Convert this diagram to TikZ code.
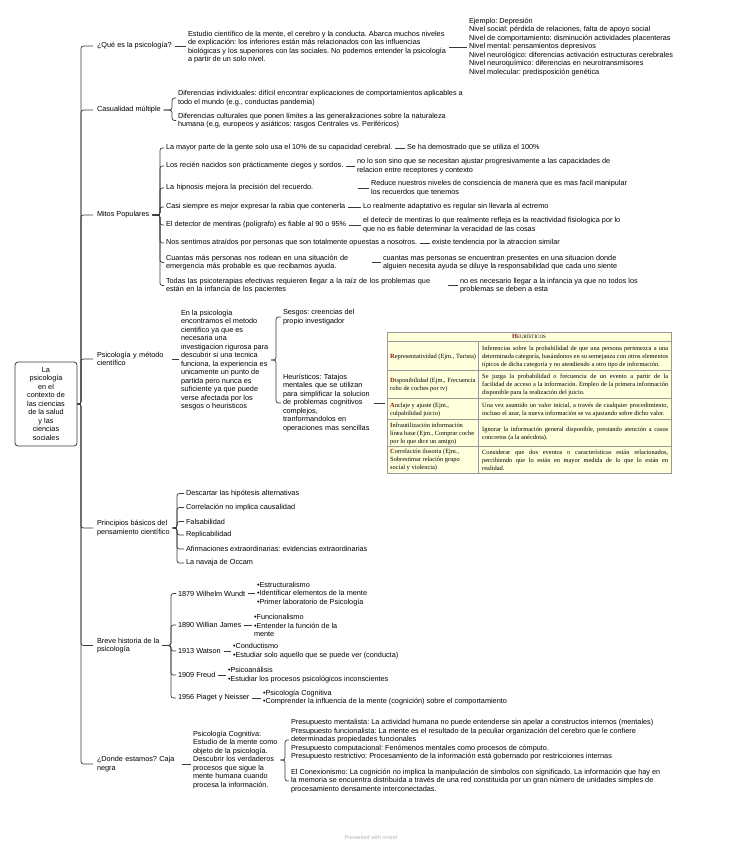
\documentclass[tikz,border=0pt]{standalone}
\usepackage{fontspec}
\setmainfont{Liberation Sans}
\newfontfamily\tablefont{Liberation Serif}
\usepackage{xcolor}
\usepackage{tikz}
\usetikzlibrary{calc}
\definecolor{linkcolor}{HTML}{3A3A3A}
\definecolor{tablefill}{HTML}{FFFFDC}
\definecolor{tablerule}{HTML}{9A9A9A}
\definecolor{initialred}{HTML}{9B0A0A}
\newcommand{\mapfont}{\frenchspacing\fontsize{7.3}{8.5}\selectfont}
\newcommand{\cellfont}{\frenchspacing\tablefont\fontsize{6.4}{8}\selectfont}
\newcommand{\initial}[1]{\textcolor{initialred}{\textbf{#1}}}
\newcommand{\branch}[3]{\draw[link] (#1.east) -- ($(#1.east -| #2.west)+(-#3,0)$) |- (#2.west);}
\newcommand{\dashlink}[2]{\draw[link] (#1.east) -- (#1.east -| #2.west);}

\begin{document}
\begin{tikzpicture}[
        x=1pt, y=-1pt,
        txt/.style={anchor=west, inner sep=0pt, outer sep=0pt, align=left, font=\mapfont},
        link/.style={draw=linkcolor, line width=0.7pt, rounded corners=2.5pt, shorten <=3pt, shorten >=2pt},
        rootbox/.style={draw=linkcolor, line width=0.8pt, rounded corners=3pt, minimum width=62pt, minimum height=84pt, inner sep=1pt, align=center, font=\mapfont},
        tablebox/.style={draw=tablerule, fill=tablefill, line width=0.6pt, minimum width=284pt, minimum height=141pt, inner sep=0pt},
        gridline/.style={draw=tablerule, line width=0.6pt},
        cell/.style={anchor=west, inner sep=0pt, font=\cellfont, align=left},
        bodycell/.style={cell, text width=186pt, align=justify}
    ]
        \useasboundingbox (0,0) rectangle (742,848);

        \node[rootbox] (root) at (46,404) {La\\psicología\\en el\\contexto de\\las ciencias\\de la salud\\y las\\ciencias\\sociales};

        \node[txt] (q1) at (97,46) {¿Qué es la psicología?};
        \node[txt] (q2) at (97,110) {Casualidad múltiple};
        \node[txt] (q3) at (97,215) {Mitos Populares};
        \node[txt, text width=72pt] (q4) at (97,359) {Psicología y método\\científico};
        \node[txt] (q5) at (97,528) {Principios básicos del\\pensamiento científico};
        \node[txt] (q6) at (97,645.5) {Breve historia de la\\psicología};
        \node[txt, text width=82pt] (q7) at (97,764) {¿Donde estamos? Caja\\negra};

        \foreach \q in {q1,q2,q3,q4,q5,q6,q7}
            \draw[link, shorten <=0pt, shorten >=4pt] (root.east) -- ($(root.east -| \q.west)+(-16pt,0)$) |- (\q.west);

        \node[txt] (def) at (188,47) {Estudio científico de la mente, el cerebro y la conducta. Abarca muchos niveles\\de explicación: los inferiores están más relacionados con las influencias\\biológicas y los superiores con las sociales. No podemos entender la psicología\\a partir de un solo nivel.};
        \node[txt] (example) at (469,47) {Ejemplo: Depresión\\Nivel social: pérdida de relaciones, falta de apoyo social\\Nivel de comportamiento: disminución actividades placenteras\\Nivel mental: pensamientos depresivos\\Nivel neurológico: diferencias activación estructuras cerebrales\\Nivel neuroquímico: diferencias en neurotransmisores\\Nivel molecular: predisposición genética};
        \dashlink{q1}{def}
        \dashlink{def}{example}

        \node[txt] (cause1) at (178,98) {Diferencias individuales: difícil encontrar explicaciones de comportamientos aplicables a\\todo el mundo (e.g., conductas pandemia)};
        \node[txt] (cause2) at (178,120.5) {Diferencias culturales que ponen límites a las generalizaciones sobre la naturaleza\\humana (e.g, europeos y asiáticos: rasgos Centrales vs. Periféricos)};
        \foreach \c in {cause1,cause2} {\branch{q2}{\c}{6pt}}

        \node[txt] (myth1) at (166,148) {La mayor parte de la gente solo usa el 10\% de su capacidad cerebral.};
        \node[txt] (myth2) at (166,166) {Los recién nacidos son prácticamente ciegos y sordos.};
        \node[txt, text width=189pt] (myth3) at (166,188) {La hipnosis mejora la precisión del recuerdo.};
        \node[txt] (myth4) at (166,207) {Casi siempre es mejor expresar la rabia que contenerla};
        \node[txt] (myth5) at (166,225) {El detector de mentiras (polígrafo) es fiable al 90 o 95\%};
        \node[txt] (myth6) at (166,243) {Nos sentimos atraídos por personas que son totalmente opuestas a nosotros.};
        \node[txt, text width=203pt] (myth7) at (166,262.5) {Cuantas más personas nos rodean en una situación de\\emergencia más probable es que recibamos ayuda.};
        \node[txt, text width=279pt] (myth8) at (166,285.5) {Todas las psicoterapias efectivas requieren llegar a la raíz de los problemas que\\están en la infancia de los pacientes};

        \node[txt] (fact1) at (407,148) {Se ha demostrado que se utiliza el 100\%};
        \node[txt] (fact2) at (357,166) {no lo son sino que se necesitan ajustar progresivamente a las capacidades de\\relacion entre receptores y contexto};
        \node[txt] (fact3) at (371,188) {Reduce nuestros niveles de consciencia de manera que es mas facil manipular\\los recuerdos que tenemos};
        \node[txt] (fact4) at (363,207) {Lo realmente adaptativo es regular sin llevarla al ectremo};
        \node[txt] (fact5) at (363,225) {el detecir de mentiras lo que realmente refleja es la reactividad fisiologica por lo\\que no es fiable determinar la veracidad de las cosas};
        \node[txt] (fact6) at (432,243) {existe tendencia por la atraccion similar};
        \node[txt] (fact7) at (383,262.5) {cuantas mas personas se encuentran presentes en una situacion donde\\alguien necesita ayuda se diluye la responsabilidad que cada uno siente};
        \node[txt] (fact8) at (460,285.5) {no es necesario llegar a la infancia ya que no todos los\\problemas se deben a esta};

        \foreach \i in {1,...,8} {\branch{q3}{myth\i}{6pt}\dashlink{myth\i}{fact\i}}

        \node[txt] (method) at (181,360) {En la psicología\\encontramos el metodo\\cientifico ya que es\\necesaria una\\investigacion rigurosa para\\descubrir si una tecnica\\funciona, la experiencia es\\unicamente un punto de\\partida pero nunca es\\suficiente ya que puede\\verse afectada por los\\sesgos o heuristicos};
        \node[txt] (bias) at (283,317) {Sesgos: creencias del\\propio investigador};
        \node[txt, text width=88pt] (heuristic) at (283,403) {Heurísticos: Tatajos\\mentales que se utilizan\\para simplificar la solucion\\de problemas cognitivos\\complejos,\\tranformandolos en\\operaciones mas sencillas};
        \dashlink{q4}{method}
        \foreach \c in {bias,heuristic} {\branch{method}{\c}{7pt}}

        \node[tablebox] (heurtab) at (529,402.5) {};
        \foreach \d in {10,39,67,88,115}
            \draw[gridline] ([yshift=-\d pt]heurtab.north west) -- ([yshift=-\d pt]heurtab.north east);
        \draw[gridline] ([xshift=92pt,yshift=-10pt]heurtab.north west) -- ([xshift=92pt]heurtab.south west);
        \node[font=\cellfont, inner sep=0pt] (tabtitle) at ([yshift=-5pt]heurtab.north) {\initial{H}{\fontsize{5}{6}\selectfont EURÍSTICOS}};
        \foreach \i/\y/\l/\r in {
            1/356.5/{\initial{R}epresentatividad (Ejm., Turista)}/{Inferencias sobre la probabilidad de que una persona pertenezca a una\linebreak determinada categoría, basándonos en su semejanza con otros elementos\linebreak típicos de dicha categoría y no atendiendo a otro tipo de información.},
            2/385/{\initial{D}isponibilidad (Ejm., Frecuencia\\robo de coches por tv)}/{Se juzga la probabilidad o frecuencia de un evento a partir de la\linebreak facilidad de acceso a la información. Empleo de la primera información\linebreak disponible para la realización del juicio.},
            3/409.5/{\initial{A}nclaje y ajuste (Ejm.,\\culpabilidad juicio)}/{Una vez asumido un valor inicial, a través de cualquier procedimiento,\linebreak incluso el azar, la nueva información se va ajustando sobre dicho valor.},
            4/433.5/{\initial{I}nfrautilización información\\línea base (Ejm., Comprar coche\\por lo que dice un amigo)}/{Ignorar la información general disponible, prestando atención a casos\linebreak concretos (a la anécdota).},
            5/460/{\initial{C}orrelación ilusoria (Ejm.,\\Sobrestimar relación grupo\\social y violencia)}/{Considerar que dos eventos o características están relacionados,\linebreak percibiendo que lo están en mayor medida de lo que lo están en\linebreak realidad.}}
        {
            \node[cell] (kind\i) at (390,\y) {\l};
            \node[bodycell] (desc\i) at (482,\y) {\r};
        }
        \dashlink{heuristic}{heurtab}

        \foreach \i/\y/\t in {1/493.5/Descartar las hipótesis alternativas, 2/507.5/Correlación no implica causalidad, 3/521.5/Falsabilidad, 4/535/Replicabilidad, 5/549/{Afirmaciones extraordinarias: evidencias extraordinarias}, 6/563/La navaja de Occam}
            {\node[txt] (rule\i) at (186,\y) {\t}; \branch{q5}{rule\i}{9pt}}

        \node[txt] (era1) at (178,593.5) {1879 Wilhelm Wundt};
        \node[txt] (era2) at (178,625) {1890 Willian James};
        \node[txt] (era3) at (178,651) {1913 Watson};
        \node[txt] (era4) at (178,675) {1909 Freud};
        \node[txt] (era5) at (178,698) {1956 Piaget y Neisser};
        \node[txt] (idea1) at (257,594) {•Estructuralismo\\•Identificar elementos de la mente\\•Primer laboratorio de Psicología};
        \node[txt] (idea2) at (254,625.5) {•Funcionalismo\\•Entender la función de la\\mente};
        \node[txt] (idea3) at (233,651) {•Conductismo\\•Estudiar solo aquello que se puede ver (conducta)};
        \node[txt] (idea4) at (228,675) {•Psicoanálisis\\•Estudiar los procesos psicológicos inconscientes};
        \node[txt] (idea5) at (263,697.5) {•Psicología Cognitiva\\•Comprender la influencia de la mente (cognición) sobre el comportamiento};
        \foreach \i in {1,...,5} {\branch{q6}{era\i}{7pt}\dashlink{era\i}{idea\i}}

        \node[txt] (cognitive) at (193,760) {Psicología Cognitiva:\\Estudio de la mente como\\objeto de la psicología.\\Descubrir los verdaderos\\procesos que sigue la\\mente humana cuando\\procesa la información.};
        \node[txt] (premise) at (291,740) {Presupuesto mentalista: La actividad humana no puede entenderse sin apelar a constructos internos (mentales)\\Presupuesto funcionalista: La mente es el resultado de la peculiar organización del cerebro que le confiere\\determinadas propiedades funcionales\\Presupuesto computacional: Fenómenos mentales como procesos de cómputo.\\Presupuesto restrictivo: Procesamiento de la información está gobernado por restricciones internas};
        \node[txt] (connect) at (291,781) {El Conexionismo: La cognición no implica la manipulación de símbolos con significado. La información que hay en\\la memoria se encuentra distribuida a través de una red constituida por un gran número de unidades simples de\\procesamiento densamente interconectadas.};
        \dashlink{q7}{cognitive}
        \foreach \c in {premise,connect} {\branch{cognitive}{\c}{6pt}}

        \node[font=\fontsize{5.5}{6}\selectfont, text=black!30, inner sep=0pt] (credit) at (371,838) {Presented with xmind};
    \end{tikzpicture}
\end{document}
